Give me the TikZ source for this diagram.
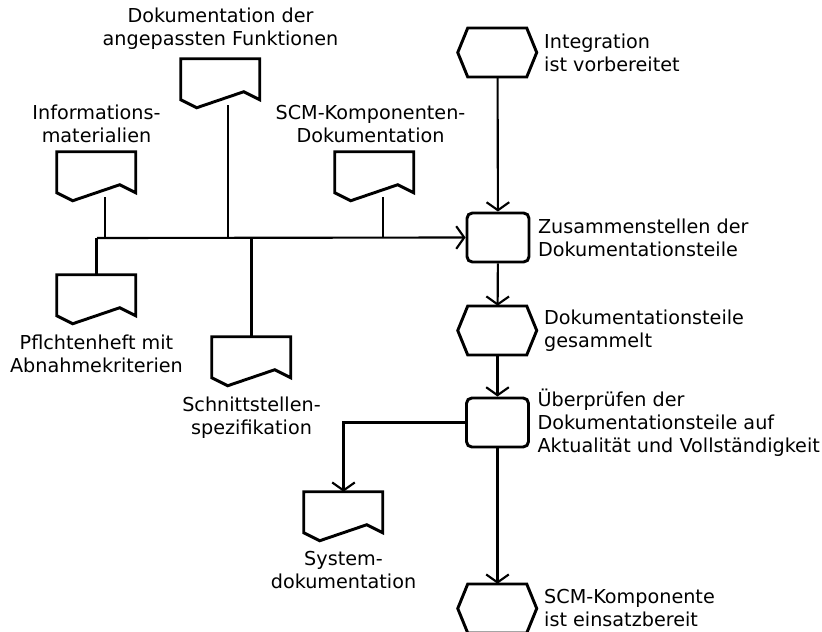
\documentclass[tikz,border=0pt]{standalone}
\usepackage{fontspec}
\setmainfont{DejaVu Sans}
\usetikzlibrary{positioning,arrows.meta}
\begin{document}
\begin{tikzpicture}[x=0.75pt,y=-0.75pt]
            \tikzset{
                outline/.style={line width=2.2pt,line join=miter},
                conn/.style={line width=1.6pt},
                flow/.style={conn,-{Straight Barb[length=6pt,width=17pt]}},
                docbox/.style={minimum width=59.25pt,minimum height=36.75pt,inner sep=0pt},
                eventbox/.style={minimum width=59.25pt,minimum height=36.75pt,inner sep=0pt},
                funcbox/.style={draw,outline,rounded corners=4pt,minimum width=46.5pt,minimum height=36.75pt,inner sep=0pt},
                txt/.style={inner sep=0pt,font=\fontsize{14.4}{17.25}\selectfont},}
            \useasboundingbox (0,0) rectangle (822,632);
            % Ereignisse und Funktionen
            \node [eventbox] (start) at (497.5,52.5) {};
            \node [funcbox] (zus) at (498,237.5) {};
            \node [eventbox] (gesammelt) at (497.5,330.5) {};
            \node [funcbox] (pruef) at (497.5,422.5) {};
            \node [eventbox] (bereit) at (497.5,608.5) {};
            \foreach \n in {start,gesammelt,bereit}
                \draw [outline] (\n.west) -- ++(10,-24.5) -- ++(59,0) -- ++(10,24.5) -- ++(-10,24.5) -- ++(-59,0) -- cycle;
            % Dokumente
            \node [docbox] (info) at (96.5,176.5) {};
            \node [docbox] (funkdoc) at (220.5,83.5) {};
            \node [docbox] (scmdoc) at (374.5,176.5) {};
            \node [docbox] (pflicht) at (96.5,299.5) {};
            \node [docbox] (schnitt) at (251.5,361.5) {};
            \node [docbox] (sysdoc) at (343.5,516.5) {};
            \foreach \n in {info,funkdoc,scmdoc,pflicht,schnitt,sysdoc}
                \draw [outline] (\n.north west) -- ++(79,0) -- ++(0,41) -- ++(-16,-8) -- ++(-47,16) -- ++(-16,-8) -- cycle;
            % Beschriftungen
            \node [txt,align=left,right=5pt of start] (startlbl) {Integration\\ist vorbereitet};
            \node [txt,align=left,right=5.5pt of zus] (zuslbl) {Zusammenstellen der\\Dokumentationsteile};
            \node [txt,align=left,right=5pt of gesammelt] (gesammeltlbl) {Dokumentationsteile\\gesammelt};
            \node [txt,align=left,right=5.5pt of pruef] (prueflbl) {Überprüfen der\\Dokumentationsteile auf\\Aktualität und Vollständigkeit};
            \node [txt,align=left,right=5pt of bereit] (bereitlbl) {SCM-Komponente\\ist einsatzbereit};
            \node [txt,align=center,above=6.5pt of info] (infolbl) {Informations-\\materialien};
            \node [txt,align=center,above=6.5pt of funkdoc] (funkdoclbl) {Dokumentation der\\angepassten Funktionen};
            \node [txt,align=center,above=6.5pt of scmdoc,xshift=-3pt] (scmdoclbl) {SCM-Komponenten-\\Dokumentation};
            \node [txt,align=center,below=8pt of pflicht] (pflichtlbl) {Pflchtenheft mit\\Abnahmekriterien};
            \node [txt,align=center,below=7.5pt of schnitt] (schnittlbl) {Schnittstellen-\\spezifikation};
            \node [txt,align=center,below=7.5pt of sysdoc] (sysdoclbl) {System-\\dokumentation};
            % Verbindungen
            \coordinate (sammel) at (97,238);
            \coordinate (infoout) at ([shift={(8.5,-4)}]info.south);
            \coordinate (funkdocout) at ([shift={(7.5,-3)}]funkdoc.south);
            \coordinate (scmdocout) at ([shift={(8.5,-4)}]scmdoc.south);
            \draw [conn] (infoout) -- (infoout |- sammel);
            \draw [conn] (funkdocout) -- (funkdocout |- sammel);
            \draw [conn] (scmdocout) -- (scmdocout |- sammel);
            \draw [conn] (pflicht.north |- sammel) -- (pflicht.north);
            \draw [conn] (schnitt.north |- sammel) -- (schnitt.north);
            \draw [flow] (sammel) -- (zus.west);
            \draw [flow] (start) -- (zus);
            \draw [flow] (zus) -- (gesammelt);
            \draw [flow] (gesammelt) -- (pruef);
            \draw [flow] (pruef) -- (bereit);
            \draw [flow] (pruef.west) -| (sysdoc.north);
        \end{tikzpicture}
\end{document}
